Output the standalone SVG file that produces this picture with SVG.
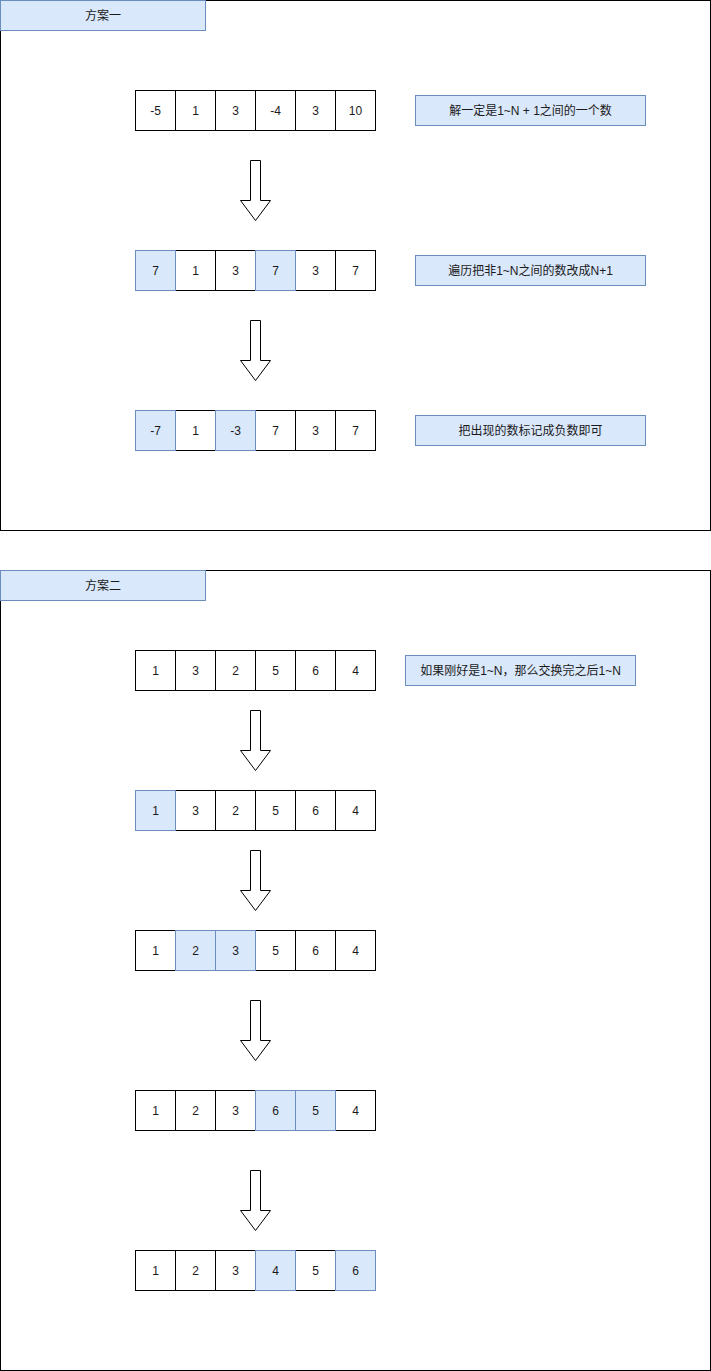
<svg xmlns="http://www.w3.org/2000/svg" width="711" height="1371" viewBox="0 0 711 1371">
  <defs>
    <style>
      text { font-family: "Liberation Sans", Arial, "Noto Sans CJK SC", sans-serif; font-size: 12px; fill: #1a1a1a; text-anchor: middle; dominant-baseline: central; }
      .frame { fill: #ffffff; stroke: #000000; stroke-width: 1; }
      .tab { fill: #dae8fc; stroke: #6c8ebf; stroke-width: 1; }
      .cell { fill: #ffffff; stroke: #000000; stroke-width: 1; }
      .hl { fill: #dae8fc; stroke: #6c8ebf; stroke-width: 1; }
      .note { fill: #dae8fc; stroke: #6c8ebf; stroke-width: 1; }
      .arrow { fill: #ffffff; stroke: #000000; stroke-width: 1; stroke-linejoin: miter; }
    </style>
    <path id="down" class="arrow" d="M250.5,0.5 H260.5 V40.5 H270.5 L255.5,60.5 L240.5,40.5 H250.5 Z"/>
  </defs>

  <rect width="711" height="1371" fill="#ffffff"/>

  <!-- Plan 1 -->
  <g id="plan1">
    <rect class="frame" x="0.5" y="0.5" width="710" height="530"/>
    <g id="plan1-title">
      <rect class="tab" x="0.5" y="0.5" width="205" height="30"/>
      <text x="103" y="15.5">方案一</text>
    </g>

    <g id="p1-row1">
      <rect class="cell" x="135.5" y="90.5" width="40" height="40"/><text x="155.5" y="110.5">-5</text>
      <rect class="cell" x="175.5" y="90.5" width="40" height="40"/><text x="195.5" y="110.5">1</text>
      <rect class="cell" x="215.5" y="90.5" width="40" height="40"/><text x="235.5" y="110.5">3</text>
      <rect class="cell" x="255.5" y="90.5" width="40" height="40"/><text x="275.5" y="110.5">-4</text>
      <rect class="cell" x="295.5" y="90.5" width="40" height="40"/><text x="315.5" y="110.5">3</text>
      <rect class="cell" x="335.5" y="90.5" width="40" height="40"/><text x="355.5" y="110.5">10</text>
    </g>
    <g id="p1-note1">
      <rect class="note" x="415.5" y="95.5" width="230" height="30"/>
      <text x="530.5" y="110.5">解一定是1~N + 1之间的一个数</text>
    </g>

    <g id="p1-row2">
      <rect class="cell" x="175.5" y="250.5" width="40" height="40"/><text x="195.5" y="270.5">1</text>
      <rect class="cell" x="215.5" y="250.5" width="40" height="40"/><text x="235.5" y="270.5">3</text>
      <rect class="cell" x="295.5" y="250.5" width="40" height="40"/><text x="315.5" y="270.5">3</text>
      <rect class="cell" x="335.5" y="250.5" width="40" height="40"/><text x="355.5" y="270.5">7</text>
      <rect class="hl" x="135.5" y="250.5" width="40" height="40"/><text x="155.5" y="270.5">7</text>
      <rect class="hl" x="255.5" y="250.5" width="40" height="40"/><text x="275.5" y="270.5">7</text>
    </g>
    <g id="p1-note2">
      <rect class="note" x="415.5" y="255.5" width="230" height="30"/>
      <text x="530.5" y="270.5">遍历把非1~N之间的数改成N+1</text>
    </g>

    <g id="p1-row3">
      <rect class="cell" x="175.5" y="410.5" width="40" height="40"/><text x="195.5" y="430.5">1</text>
      <rect class="cell" x="255.5" y="410.5" width="40" height="40"/><text x="275.5" y="430.5">7</text>
      <rect class="cell" x="295.5" y="410.5" width="40" height="40"/><text x="315.5" y="430.5">3</text>
      <rect class="cell" x="335.5" y="410.5" width="40" height="40"/><text x="355.5" y="430.5">7</text>
      <rect class="hl" x="135.5" y="410.5" width="40" height="40"/><text x="155.5" y="430.5">-7</text>
      <rect class="hl" x="215.5" y="410.5" width="40" height="40"/><text x="235.5" y="430.5">-3</text>
    </g>
    <g id="p1-note3">
      <rect class="note" x="415.5" y="415.5" width="230" height="30"/>
      <text x="530.5" y="430.5">把出现的数标记成负数即可</text>
    </g>
  </g>

  <!-- Plan 2 -->
  <g id="plan2">
    <rect class="frame" x="0.5" y="570.5" width="710" height="800"/>
    <g id="plan2-title">
      <rect class="tab" x="0.5" y="570.5" width="205" height="30"/>
      <text x="103" y="585.5">方案二</text>
    </g>

    <g id="p2-row1">
      <rect class="cell" x="135.5" y="650.5" width="40" height="40"/><text x="155.5" y="670.5">1</text>
      <rect class="cell" x="175.5" y="650.5" width="40" height="40"/><text x="195.5" y="670.5">3</text>
      <rect class="cell" x="215.5" y="650.5" width="40" height="40"/><text x="235.5" y="670.5">2</text>
      <rect class="cell" x="255.5" y="650.5" width="40" height="40"/><text x="275.5" y="670.5">5</text>
      <rect class="cell" x="295.5" y="650.5" width="40" height="40"/><text x="315.5" y="670.5">6</text>
      <rect class="cell" x="335.5" y="650.5" width="40" height="40"/><text x="355.5" y="670.5">4</text>
    </g>
    <g id="p2-note1">
      <rect class="note" x="405.5" y="655.5" width="230" height="30"/>
      <text x="520.5" y="670.5">如果刚好是1~N，那么交换完之后1~N</text>
    </g>

    <g id="p2-row2">
      <rect class="cell" x="175.5" y="790.5" width="40" height="40"/><text x="195.5" y="810.5">3</text>
      <rect class="cell" x="215.5" y="790.5" width="40" height="40"/><text x="235.5" y="810.5">2</text>
      <rect class="cell" x="255.5" y="790.5" width="40" height="40"/><text x="275.5" y="810.5">5</text>
      <rect class="cell" x="295.5" y="790.5" width="40" height="40"/><text x="315.5" y="810.5">6</text>
      <rect class="cell" x="335.5" y="790.5" width="40" height="40"/><text x="355.5" y="810.5">4</text>
      <rect class="hl" x="135.5" y="790.5" width="40" height="40"/><text x="155.5" y="810.5">1</text>
    </g>

    <g id="p2-row3">
      <rect class="cell" x="135.5" y="930.5" width="40" height="40"/><text x="155.5" y="950.5">1</text>
      <rect class="cell" x="255.5" y="930.5" width="40" height="40"/><text x="275.5" y="950.5">5</text>
      <rect class="cell" x="295.5" y="930.5" width="40" height="40"/><text x="315.5" y="950.5">6</text>
      <rect class="cell" x="335.5" y="930.5" width="40" height="40"/><text x="355.5" y="950.5">4</text>
      <rect class="hl" x="175.5" y="930.5" width="40" height="40"/><text x="195.5" y="950.5">2</text>
      <rect class="hl" x="215.5" y="930.5" width="40" height="40"/><text x="235.5" y="950.5">3</text>
    </g>

    <g id="p2-row4">
      <rect class="cell" x="135.5" y="1090.5" width="40" height="40"/><text x="155.5" y="1110.5">1</text>
      <rect class="cell" x="175.5" y="1090.5" width="40" height="40"/><text x="195.5" y="1110.5">2</text>
      <rect class="cell" x="215.5" y="1090.5" width="40" height="40"/><text x="235.5" y="1110.5">3</text>
      <rect class="cell" x="335.5" y="1090.5" width="40" height="40"/><text x="355.5" y="1110.5">4</text>
      <rect class="hl" x="255.5" y="1090.5" width="40" height="40"/><text x="275.5" y="1110.5">6</text>
      <rect class="hl" x="295.5" y="1090.5" width="40" height="40"/><text x="315.5" y="1110.5">5</text>
    </g>

    <g id="p2-row5">
      <rect class="cell" x="135.5" y="1250.5" width="40" height="40"/><text x="155.5" y="1270.5">1</text>
      <rect class="cell" x="175.5" y="1250.5" width="40" height="40"/><text x="195.5" y="1270.5">2</text>
      <rect class="cell" x="215.5" y="1250.5" width="40" height="40"/><text x="235.5" y="1270.5">3</text>
      <rect class="cell" x="295.5" y="1250.5" width="40" height="40"/><text x="315.5" y="1270.5">5</text>
      <rect class="hl" x="255.5" y="1250.5" width="40" height="40"/><text x="275.5" y="1270.5">4</text>
      <rect class="hl" x="335.5" y="1250.5" width="40" height="40"/><text x="355.5" y="1270.5">6</text>
    </g>
  </g>

  <!-- Step arrows -->
  <g id="connectors">
    <use href="#down" y="160"/>
    <use href="#down" y="320"/>
    <use href="#down" y="710"/>
    <use href="#down" y="850"/>
    <use href="#down" y="1000"/>
    <use href="#down" y="1170"/>
  </g>
</svg>
